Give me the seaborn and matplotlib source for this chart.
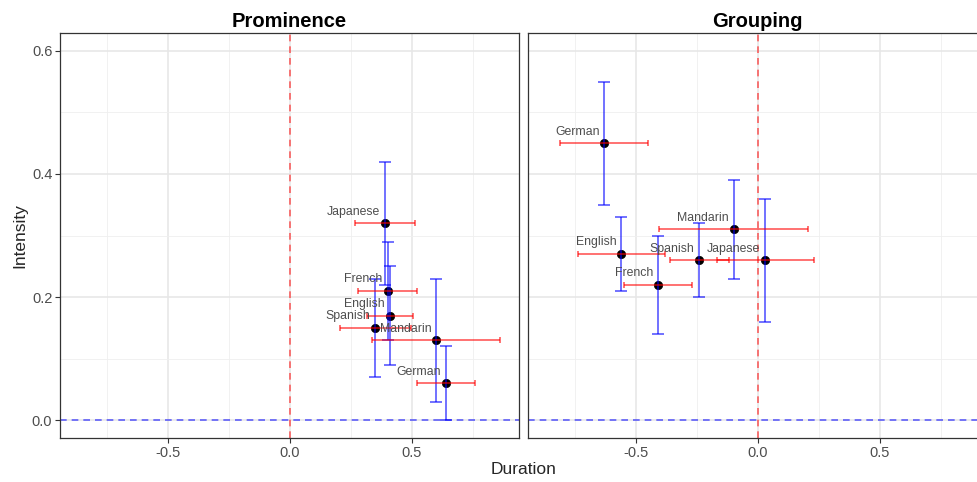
import matplotlib
matplotlib.use("Agg")
from matplotlib import pyplot as plt
from matplotlib.ticker import FixedLocator
import numpy as np
import pandas as pd
import seaborn as sns

languages = ["English", "French", "German", "Japanese", "Mandarin", "Spanish"]

# Prominence panel
prom_dur = [0.41, 0.40, 0.64, 0.39, 0.60, 0.35]
prom_int = [0.17, 0.21, 0.06, 0.32, 0.13, 0.15]
prom_dur_err = [0.095, 0.12, 0.12, 0.123, 0.263, 0.145]
prom_int_err = [0.08, 0.08, 0.06, 0.10, 0.10, 0.08]

# Grouping panel
group_dur = [-0.56, -0.41, -0.63, 0.03, -0.10, -0.24]
group_int = [0.27, 0.22, 0.45, 0.26, 0.31, 0.26]
group_dur_err = [0.18, 0.14, 0.18, 0.20, 0.305, 0.12]
group_int_err = [0.06, 0.08, 0.10, 0.10, 0.08, 0.06]

panels = ["Prominence", "Grouping"]
x_ticks = [-0.5, 0.0, 0.5]
x_tick_labels = ["-0.5", "0.0", "0.5"]
y_ticks = [0.0, 0.2, 0.4, 0.6]
y_tick_labels = ["0.0", "0.2", "0.4", "0.6"]

df = pd.concat([
    pd.DataFrame({"panel": "Prominence", "lang": languages, "dur": prom_dur,
                  "int": prom_int, "dur_err": prom_dur_err, "int_err": prom_int_err}),
    pd.DataFrame({"panel": "Grouping", "lang": languages, "dur": group_dur,
                  "int": group_int, "dur_err": group_dur_err, "int_err": group_int_err}),
])

sns.set_theme(style="white")
plt.rcParams["font.family"] = ["Liberation Sans", "DejaVu Sans"]

fig = plt.figure(figsize=(9.77, 4.82), dpi=100)
W, H = 977, 482
bottom = 1 - 438 / H
height = (438 - 33) / H
ax_left = fig.add_axes([60 / W, bottom, (519 - 60) / W, height])
ax_right = fig.add_axes([528 / W, bottom, (519 - 60) / W, height])

grey30 = "#4D4D4D"
grey20 = "#333333"

for ax, name in zip([ax_left, ax_right], panels):
    d = df[df["panel"] == name]
    ax.set_xlim(-0.943, 0.939)
    ax.set_ylim(-0.029, 0.629)
    ax.xaxis.set_minor_locator(FixedLocator([-0.75, -0.25, 0.25, 0.75]))
    ax.yaxis.set_minor_locator(FixedLocator([0.1, 0.3, 0.5]))
    ax.grid(True, which="major", color="#E6E6E6", linewidth=1.1, zorder=0)
    ax.grid(True, which="minor", color="#EFEFEF", linewidth=0.6, zorder=0)
    ax.set_axisbelow(True)

    ax.axvline(0, color="red", alpha=0.6, linestyle=(0, (4, 3)), linewidth=1.2, zorder=1)
    ax.axhline(0, color="blue", alpha=0.6, linestyle=(0, (4, 3)), linewidth=1.2, zorder=1)

    sns.scatterplot(data=d, x="dur", y="int", ax=ax, color="black", s=36,
                    edgecolor="black", linewidth=0.5, zorder=2, legend=False)
    ax.errorbar(d["dur"], d["int"], yerr=d["int_err"], fmt="none", ecolor="blue",
                alpha=0.6, elinewidth=1.3, capsize=4.3, capthick=1.3, zorder=3)
    ax.errorbar(d["dur"], d["int"], xerr=d["dur_err"], fmt="none", ecolor="red",
                alpha=0.6, elinewidth=1.3, capsize=2.5, capthick=1.3, zorder=4)

    for _, r in d.iterrows():
        ax.annotate(r["lang"], (r["dur"], r["int"]), xytext=(-3.5, 4),
                    textcoords="offset points", ha="right", va="bottom",
                    fontsize=8.8, color=grey30, zorder=5)

    ax.set_title(name, fontsize=14.5, fontweight="bold", color="black", pad=4)
    ax.set_xticks(x_ticks)
    ax.set_xticklabels(x_tick_labels)
    ax.set_xlabel("")
    ax.set_ylabel("")
    for sp in ax.spines.values():
        sp.set_color(grey20)
        sp.set_linewidth(0.9)
    ax.tick_params(axis="both", which="major", length=3.5, width=0.8, color=grey20,
                   labelcolor=grey30, labelsize=10.5, pad=2, bottom=True, left=True)
    ax.tick_params(axis="both", which="minor", length=0)

ax_left.set_yticks(y_ticks)
ax_left.set_yticklabels(y_tick_labels)
ax_right.set_yticks(y_ticks)
ax_right.tick_params(axis="y", left=False, labelleft=False)

fig.text(523.5 / W, 1 - 469 / H, "Duration", ha="center", va="center", fontsize=12.5)
fig.text(20 / W, 1 - 235.5 / H, "Intensity", ha="center", va="center",
         rotation=90, fontsize=12.5)

fig.savefig("out.png", dpi=100)
